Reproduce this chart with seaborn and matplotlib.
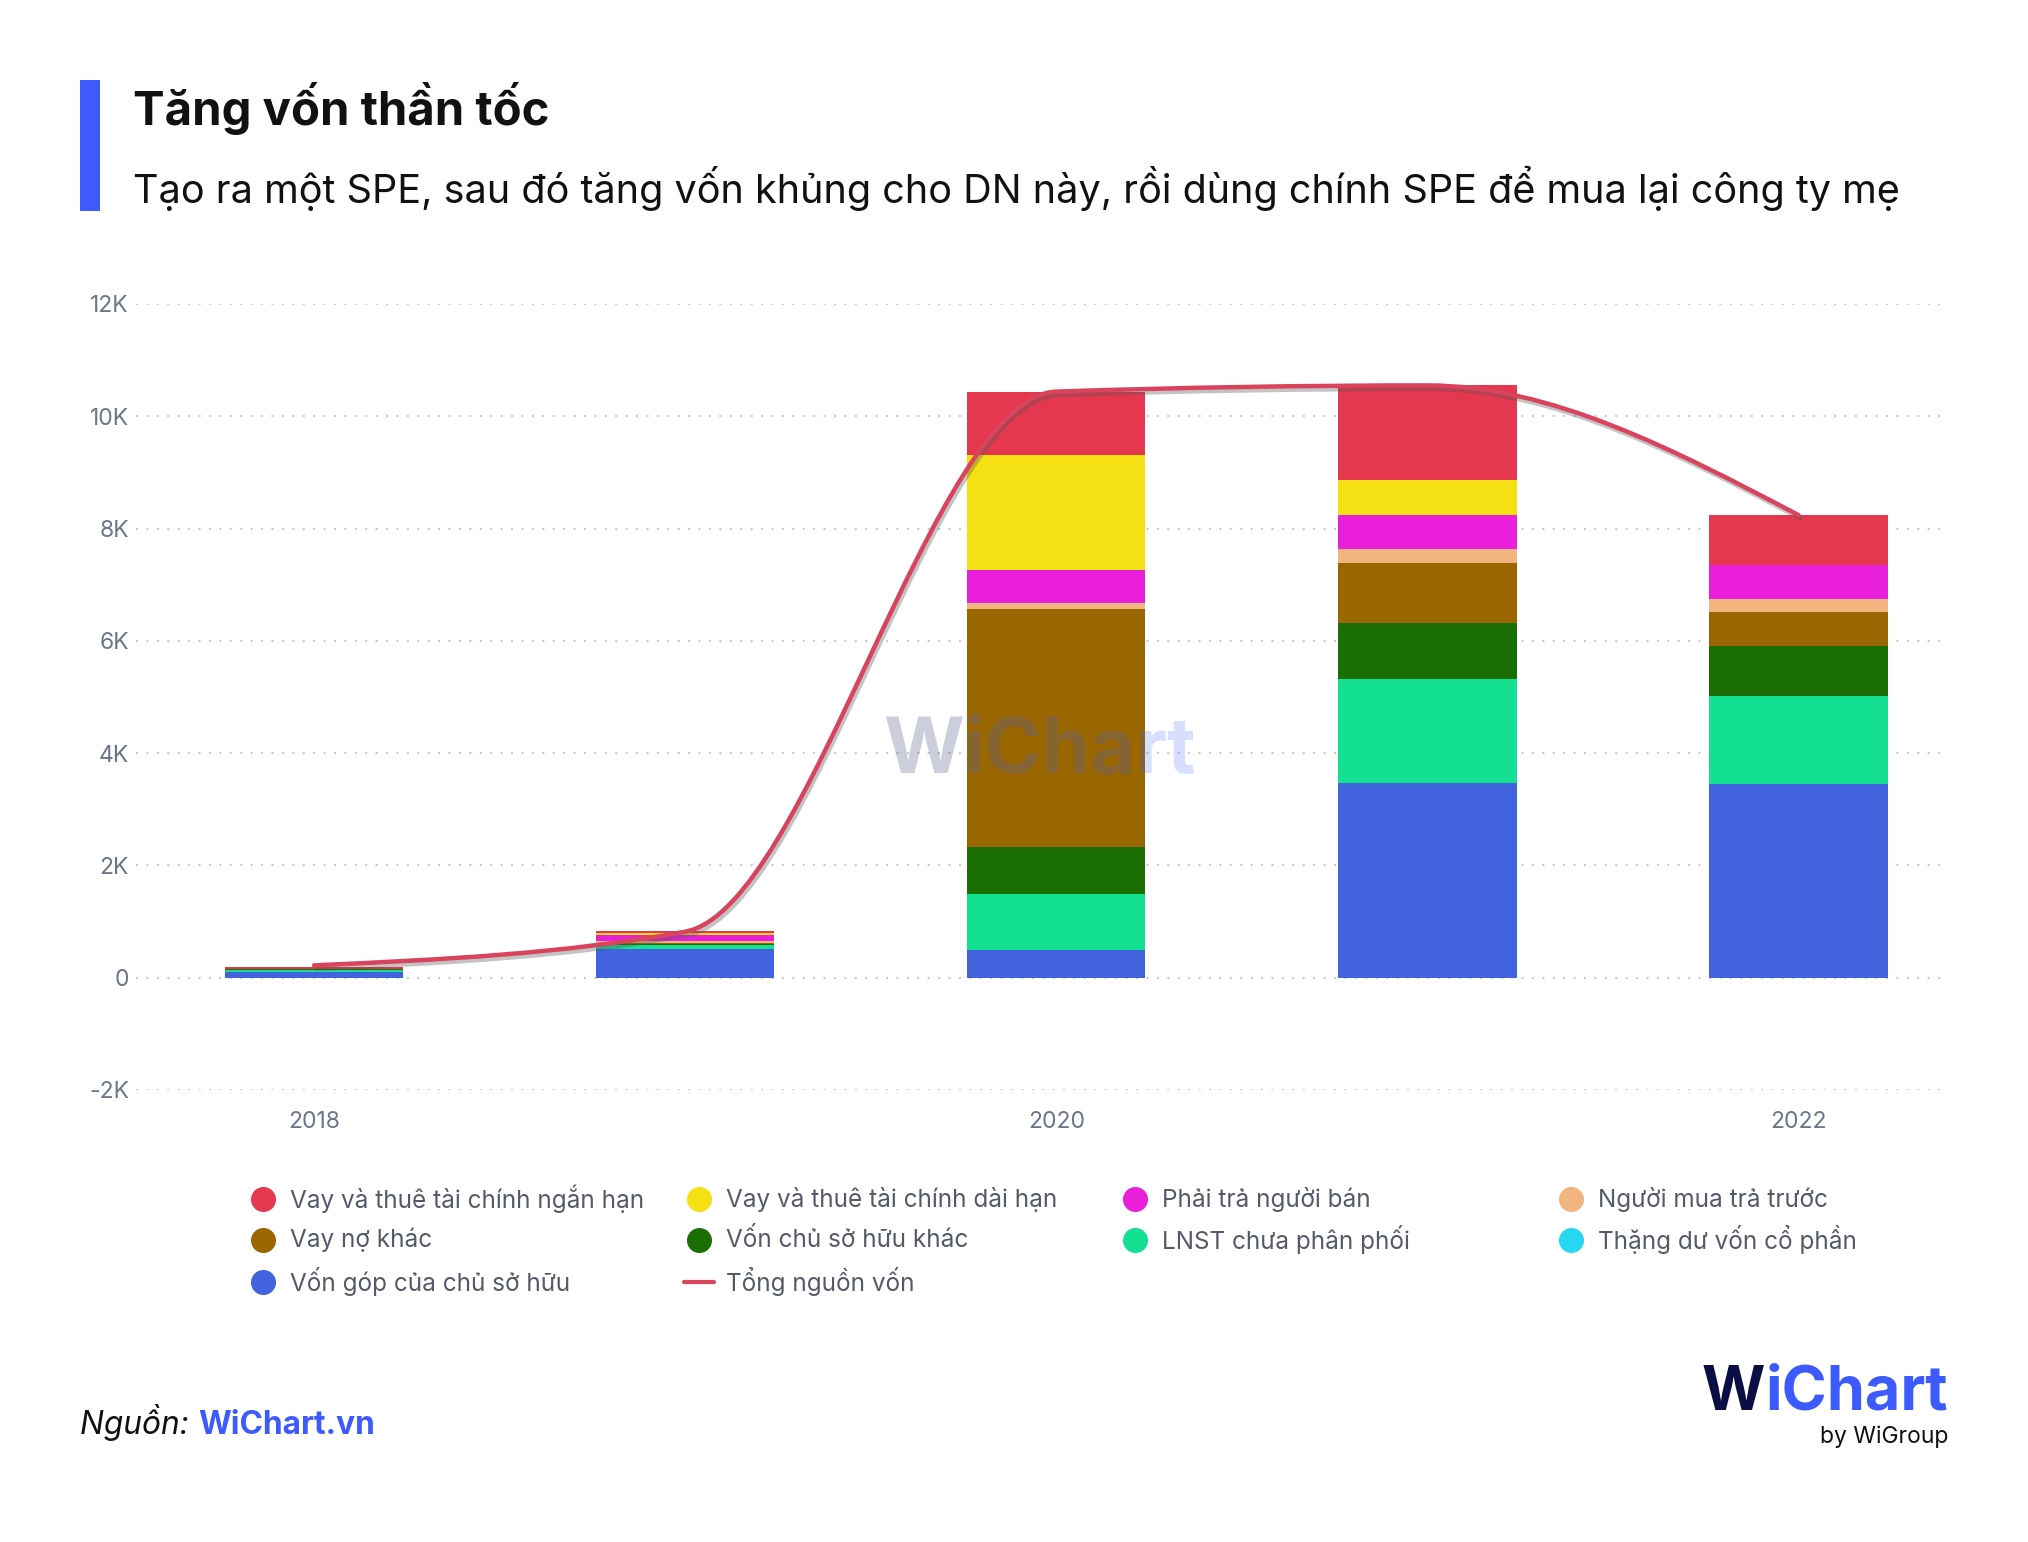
import numpy as np
import pandas as pd
import seaborn as sns
import matplotlib.pyplot as plt
import matplotlib.patheffects as pe
from matplotlib.path import Path
from matplotlib.patches import PathPatch, Rectangle
from matplotlib.lines import Line2D
from matplotlib.ticker import FuncFormatter

# data (tỷ đồng)
years = [2018, 2019, 2020, 2021, 2022]
tick_years = [2018, 2020, 2022]

# stack order: top of the bar first
series = [
    "Vay và thuê tài chính ngắn hạn",
    "Vay và thuê tài chính dài hạn",
    "Phải trả người bán",
    "Người mua trả trước",
    "Vay nợ khác",
    "Vốn chủ sở hữu khác",
    "LNST chưa phân phối",
    "Thặng dư vốn cổ phần",
    "Vốn góp của chủ sở hữu",
]
ngan_han = [30, 36, 1130, 1680, 880]
dai_han = [0, 36, 2040, 620, 0]
phai_tra = [5, 96, 590, 620, 620]
nguoi_mua = [0, 30, 110, 250, 220]
vay_no_khac = [0, 25, 4250, 1070, 620]
von_csh_khac = [5, 20, 830, 990, 880]
lnst = [35, 72, 990, 1860, 1570]
thang_du = [0, 0, 0, 0, 0]
von_gop = [110, 510, 500, 3460, 3450]
tong_nguon_von = [220, 820, 10440, 10550, 8240]
line_label = "Tổng nguồn vốn"

colors = ["#e5384f", "#f5e014", "#e91fdc", "#f3b57f", "#996600",
          "#1a6e04", "#13e091", "#27d6f0", "#4163de"]
line_color = "#d9435c"
blue = "#3d5afe"

values = [ngan_han, dai_han, phai_tra, nguoi_mua, vay_no_khac,
          von_csh_khac, lnst, thang_du, von_gop]
df = pd.DataFrame([
    {"year": y, "series": s, "value": v}
    for s, vals in zip(series, values)
    for y, v in zip(years, vals)
])

sns.set_theme(style="white")
plt.rcParams["font.family"] = ["Inter", "DejaVu Sans"]

W, H = 2028, 1542
fig = plt.figure(figsize=(W / 100, H / 100), dpi=100)


def fx(px):
    return px / W


def fy(py):
    return 1 - py / H


ax = fig.add_axes([fx(136), fy(1090), fx(1947) - fx(136), fy(304) - fy(1090)])

sns.histplot(data=df, x="year", weights="value", hue="series",
             hue_order=series, palette=colors, multiple="stack",
             discrete=True, shrink=0.48, linewidth=0, alpha=1,
             legend=False, ax=ax)

# smooth total line (monotone cubic, drawn as bezier path)
xs = np.array(years, dtype=float)
ys = np.array(tong_nguon_von, dtype=float)
h = np.diff(xs)
s = np.diff(ys) / h
t = np.zeros_like(ys)
for i in range(1, len(ys) - 1):
    p = (s[i - 1] * h[i] + s[i] * h[i - 1]) / (h[i - 1] + h[i])
    t[i] = (np.sign(s[i - 1]) + np.sign(s[i])) * min(abs(s[i - 1]), abs(s[i]), 0.5 * abs(p))
t[0] = (3 * s[0] - t[1]) / 2
t[-1] = (3 * s[-1] - t[-2]) / 2
verts = [(xs[0], ys[0])]
codes = [Path.MOVETO]
for i in range(len(xs) - 1):
    d = h[i] / 3
    verts += [(xs[i] + d, ys[i] + t[i] * d),
              (xs[i + 1] - d, ys[i + 1] - t[i + 1] * d),
              (xs[i + 1], ys[i + 1])]
    codes += [Path.CURVE4] * 3
curve = PathPatch(Path(verts, codes), fill=False, edgecolor=line_color,
                  linewidth=3.2, capstyle="round", zorder=5,
                  path_effects=[pe.SimpleLineShadow(offset=(1.5, -2.5), shadow_color="#555555", alpha=0.35),
                                pe.Normal()])
ax.add_patch(curve)

ax.set_xlim(2017.52, 2022.40)
ax.set_ylim(-2000, 12000)
ax.set_xticks(tick_years)
ax.set_yticks(range(-2000, 12001, 2000))
ax.yaxis.set_major_formatter(FuncFormatter(lambda v, _: "0" if v == 0 else f"{v / 1000:.0f}K"))
ax.set_xlabel("")
ax.set_ylabel("")
ax.tick_params(axis="both", length=0, labelsize=16.5, labelcolor="#6b7689")
ax.tick_params(axis="y", pad=5)
ax.tick_params(axis="x", pad=15)
ax.grid(axis="y", linestyle=(0, (1, 4)), color="#c3cad6", linewidth=1.5)
ax.grid(axis="x", visible=False)
ax.set_axisbelow(True)
sns.despine(ax=ax, left=True, bottom=True)

# watermark
ax.text(0.457, 0.43, "W", transform=ax.transAxes, fontsize=56, fontweight="bold",
        color="#1c2060", alpha=0.22, ha="right", va="center", zorder=6)
ax.text(0.457, 0.43, "iChart", transform=ax.transAxes, fontsize=56, fontweight="bold",
        color=blue, alpha=0.2, ha="left", va="center", zorder=6)

# title block
fig.add_artist(Rectangle((fx(80), fy(211)), fx(100) - fx(80), fy(80) - fy(211),
                         transform=fig.transFigure, color=blue, lw=0))
fig.text(fx(133), fy(125), "Tăng vốn thần tốc", fontsize=34, fontweight="bold",
         color="#111111", va="baseline")
fig.text(fx(133), fy(203), "Tạo ra một SPE, sau đó tăng vốn khủng cho DN này, rồi dùng chính SPE để mua lại công ty mẹ",
         fontsize=28.5, color="#111111", va="baseline")

# legend, row-major in 4 columns
legend_items = [(s, c, "o") for s, c in zip(series, colors)]
legend_items.append((line_label, line_color, "-"))
col_x = [263, 699, 1135, 1571]
row_y = [1199, 1240, 1282]
for k, (label, col, kind) in enumerate(legend_items):
    cx, cy = col_x[k % 4], row_y[k // 4]
    if kind == "o":
        fig.add_artist(Line2D([fx(cx)], [fy(cy)], marker="o", markersize=17,
                              color=col, linestyle="none", transform=fig.transFigure))
    else:
        fig.add_artist(Line2D([fx(cx - 15), fx(cx + 15)], [fy(cy), fy(cy)], color=col,
                              linewidth=3, transform=fig.transFigure))
    fig.text(fx(cx + 27), fy(cy), label, fontsize=17.5, color="#555a68", va="center")

# source + logo
fig.canvas.draw()
r = fig.canvas.get_renderer()
src = fig.text(fx(80), fy(1434), "Nguồn: ", fontsize=22.8, style="italic", color="#111111", va="baseline")
bb = src.get_window_extent(renderer=r)
fig.text(bb.x1 / W, fy(1434), "WiChart.vn", fontsize=22.8, fontweight="bold", color=blue, va="baseline")

logo2 = fig.text(fx(1948), fy(1410), "iChart", fontsize=44, fontweight="bold", color=blue,
                 ha="right", va="baseline")
bb = logo2.get_window_extent(renderer=r)
fig.text(bb.x0 / W, fy(1410), "W", fontsize=44, fontweight="bold", color="#0b0e45",
         ha="right", va="baseline")
fig.text(fx(1948), fy(1443), "by WiGroup", fontsize=16.5, color="#111111", ha="right", va="baseline")

fig.savefig("out.png", dpi=100, facecolor="white")
